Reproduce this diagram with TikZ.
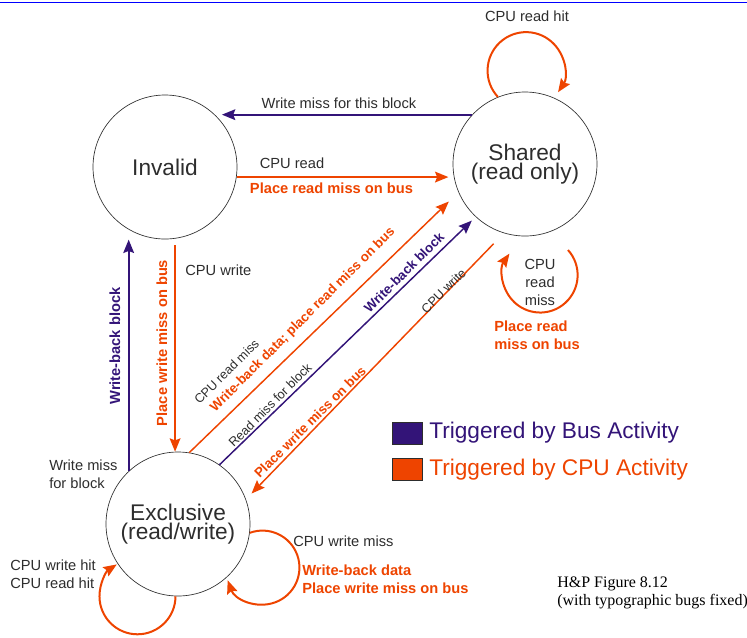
\documentclass[tikz,border=0pt]{standalone}
\usepackage{fontspec}
\setmainfont{Liberation Sans}
\newfontfamily\figfont{Liberation Serif}
\usetikzlibrary{arrows.meta,positioning}
\definecolor{busblue}{RGB}{51,20,120}
\definecolor{cpuorange}{RGB}{238,68,0}
\definecolor{labelgray}{RGB}{45,45,45}

\begin{document}
\begin{tikzpicture}[x=0.75pt, y=0.75pt,
    state/.style={draw=labelgray, circle, line width=0.5pt, minimum size=108pt, inner sep=0pt, align=center, text=labelgray, font=\fontsize{17}{14}\selectfont},
    bus/.style={busblue, line width=1.5pt, -{Stealth[length=10pt, width=8pt, inset=1.5pt]}},
    cpu/.style={cpuorange, line width=1.5pt, -{Stealth[length=10pt, width=8pt, inset=1.5pt]}},
    lbl/.style={text=labelgray, inner sep=0pt, font=\fontsize{11}{13.5}\selectfont},
    dlbl/.style={text=labelgray, inner sep=0pt, font=\fontsize{9.5}{11}\selectfont},
    buslbl/.style={busblue, inner sep=0pt, font=\fontsize{11}{13.5}\selectfont\bfseries},
    cpulbl/.style={cpuorange, inner sep=0pt, font=\fontsize{11}{13.5}\selectfont\bfseries},
    legendbox/.style={draw=labelgray, line width=0.5pt, minimum width=22.5pt, minimum height=16.5pt, inner sep=0pt},
    legendtext/.style={inner sep=0pt, font=\fontsize{17}{17}\selectfont}]
    \useasboundingbox (0,0) rectangle (747,-637);
    \draw[blue, line width=0.8pt] (0,-2.5) -- (747,-2.5);

    \node[state] (inv) at (165,-167) {Invalid};
    \node[state] (sh) at (525,-164) {Shared\\(read only)};
    \node[state] (ex) at (178,-524) {Exclusive\\(read/write)};

    \draw[bus, shorten >=5pt] (sh.137) -- (sh.137 -| inv.46);
    \draw[cpu, shorten >=4pt] (inv.-8) -- (inv.-8 -| sh.190);
    \draw[bus, shorten >=7pt] (ex.133) -- (ex.133 |- inv.-119);
    \draw[cpu, shorten <=5pt] (inv.-82) -- (inv.-82 |- ex.92);
    \draw[cpu, line width=1.1pt, shorten >=10pt] (ex.81) -- (sh.203);
    \draw[bus, line width=1.1pt, shorten >=4pt] (ex.55) -- (sh.227);
    \draw[cpu, line width=1.1pt, shorten <=11pt, shorten >=6pt] (sh.253) -- (ex.20);

    \coordinate (shloop) at ([shift={(43,-86)}]sh.center);
    \draw[cpu] (sh.112) arc[start angle=223, end angle=-34, radius=28.9pt];
    \draw[cpu] (shloop) arc[start angle=42, end angle=-215, radius=28.1pt];
    \draw[cpu] (ex.-7) arc[start angle=110, end angle=-160, radius=27.75pt];
    \draw[cpu] (ex.-92) arc[start angle=0, end angle=-237, radius=28.5pt];

    \node[lbl] (readhit) at (527,-16) {CPU read hit};
    \node[lbl] (wmthis) at (339,-103) {Write miss for this block};
    \node[lbl] (cpuread) at (292,-163) {CPU read};
    \node[cpulbl] (prmbus) at (331.5,-188) {Place read miss on bus};
    \node[lbl, anchor=west] (cpuwrite) at (185,-270) {CPU write};
    \node[cpulbl, rotate=90] (pwmbus) at (162,-343) {Place write miss on bus};
    \node[buslbl, rotate=90] (wbblock) at (115,-346) {Write-back block};
    \node[dlbl, rotate=45] (rmiss) at (226.5,-371.5) {CPU read miss};
    \node[cpulbl, font=\fontsize{10}{12}\selectfont\bfseries, rotate=45] (wbdata) at (303,-320) {Write-back data; place read miss on bus};
    \node[dlbl, rotate=45] (rmblock) at (270,-405) {Read miss for block};
    \node[buslbl, font=\fontsize{10}{12}\selectfont\bfseries, rotate=45] (wbdiag) at (404,-272.5) {Write-back block};
    \node[dlbl, rotate=45] (wdiag) at (443.5,-291) {CPU write};
    \node[cpulbl, font=\fontsize{10}{12}\selectfont\bfseries, rotate=45] (pwdiag) at (310,-422) {Place write miss on bus};
    \node[lbl, align=center] (readmiss) at (540,-282) {CPU\\read\\miss};
    \node[cpulbl, align=left, anchor=west] (prmiss) at (494,-335.5) {Place read\\miss on bus};
    \node[lbl, align=left, anchor=west] (wmblock) at (49,-474) {Write miss\\for block};
    \node[lbl, align=left, anchor=west] (hits) at (10,-574) {CPU write hit\\CPU read hit};
    \node[lbl, anchor=west] (wmiss) at (293,-541) {CPU write miss};
    \node[cpulbl, align=left, anchor=west] (wbpw) at (302,-579) {Write-back data\\Place write miss on bus};

    \node[legendbox, fill=busblue] (busbox) at (407,-433) {};
    \node[legendbox, fill=cpuorange] (cpubox) at (407,-469.5) {};
    \node[legendtext, busblue, right=5pt of busbox] (bustext) {Triggered by Bus Activity};
    \node[legendtext, cpuorange, right=5pt of cpubox] (cputext) {Triggered by CPU Activity};

    \node[inner sep=0pt, align=left, anchor=west, font=\figfont\fontsize{12}{13.5}\selectfont] (hpfig) at (557,-593) {H\&P Figure 8.12\\(with typographic bugs fixed)};
\end{tikzpicture}
\end{document}
